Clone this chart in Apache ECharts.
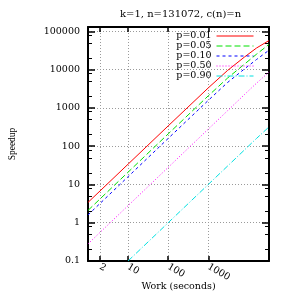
<!DOCTYPE html>
<html>
<head>
<meta charset="utf-8">
<script src="https://cdn.jsdelivr.net/npm/echarts@6/dist/echarts.min.js"></script>
<style>html,body{margin:0;padding:0;background:#fff}#c{width:291px;height:291px}</style>
</head>
<body>
<div id="c"></div>
<script>
// ---- data ----
const work = [1, 10, 100, 1000, 3000, 8000, 16000, 32768];
const p001 = [3.4, 34, 340, 3350, 9500, 21500, 37000, 58000];
const p005 = [2.1, 21, 210, 2080, 6000, 14000, 25500, 46000];
const p010 = [1.6, 16, 160, 1580, 4600, 10500, 18500, 32500];
const p050 = [0.28, 2.8, 28, 280, 840, 2240, 4450, 8700];
const p090 = [null, 0.1, 1, 10, 30, 80, 160, 320];
const seriesNames = ['p=0.01', 'p=0.05', 'p=0.10', 'p=0.50', 'p=0.90'];
const xTicks = [2, 10, 100, 1000];
const yTicks = [0.1, 1, 10, 100, 1000, 10000, 100000];
const yMinorTicks = [0.2, 0.5, 0.8, 2, 5, 8, 20, 50, 80, 200, 500, 800, 2000, 5000, 8000, 20000, 50000, 80000];

const FONT = "'DejaVu Serif', 'Liberation Serif', serif";
const FONT2 = "'Liberation Serif', serif";
const colors = ['#ff0000', '#00e000', '#0000ff', '#ff00ff', '#00e0e0'];
const dashes = ['solid', [6, 3], [3, 3], [1, 2], [6, 2, 1, 2]];
const values = [p001, p005, p010, p050, p090];

const chart = echarts.init(document.getElementById('c'), null, {renderer: 'canvas'});

const xRange = {type: 'log', logBase: 10, min: 1, max: 32768};
const yRange = {type: 'log', logBase: 10, min: 0.1, max: 131072};
const frame = {show: true, onZero: false, lineStyle: {color: '#000', width: 2}};

const fmt = v => String(Number(Number(v).toPrecision(6)));

const option = {
  animation: false,
  title: {
    text: 'k=1, n=131072, c(n)=n',
    left: 120, top: 9, padding: 0,
    textStyle: {fontFamily: FONT, fontSize: 10, fontWeight: 'normal', color: '#000'}
  },
  grid: {left: 88, right: 22, top: 27, bottom: 30, containLabel: false, outerBoundsMode: 'none'},
  legend: {
    data: seriesNames,
    orient: 'vertical',
    right: 37, top: 31, padding: 0,
    align: 'right',
    itemWidth: 37, itemHeight: 9, itemGap: 0,
    itemStyle: {opacity: 0},
    lineStyle: {width: 1},
    textStyle: {fontFamily: FONT, fontSize: 9.5, color: '#000', lineHeight: 9}
  },
  xAxis: [
    Object.assign({}, xRange, {
      position: 'bottom',
      name: 'Work (seconds)', nameLocation: 'middle', nameGap: 21, nameMoveOverlap: false,
      nameTextStyle: {fontFamily: FONT, fontSize: 9.5, color: '#000'},
      axisLine: frame,
      axisTick: {show: true, inside: true, length: 5, customValues: xTicks, lineStyle: {color: '#000', width: 1.5}},
      axisLabel: {show: true, customValues: xTicks, rotate: -30, margin: 5, fontFamily: FONT, fontSize: 9.5, color: '#000', formatter: fmt},
      splitLine: {show: true, lineStyle: {color: '#9a9a9a', width: 1, type: [1, 2]}},
      minorTick: {show: false}
    }),
    Object.assign({}, xRange, {
      position: 'top',
      axisLine: frame,
      axisTick: {show: true, inside: true, length: 5, customValues: xTicks, lineStyle: {color: '#000', width: 1.5}},
      axisLabel: {show: false},
      splitLine: {show: false}
    })
  ],
  yAxis: [
    Object.assign({}, yRange, {
      position: 'left',
      name: 'Speedup', nameLocation: 'middle', nameGap: 71, nameRotate: 90, nameMoveOverlap: false,
      nameTextStyle: {fontFamily: FONT2, fontSize: 9.5, color: '#000'},
      axisLine: frame,
      axisTick: {show: true, inside: true, length: 7, customValues: yTicks, lineStyle: {color: '#000', width: 1.5}},
      axisLabel: {show: true, customValues: yTicks, margin: 8, fontFamily: FONT, fontSize: 9.5, color: '#000', formatter: fmt},
      splitLine: {show: true, lineStyle: {color: '#9a9a9a', width: 1, type: [1, 2]}}
    }),
    Object.assign({}, yRange, {
      position: 'left',
      axisLine: {show: false},
      axisTick: {show: true, inside: true, length: 4, customValues: yMinorTicks, lineStyle: {color: '#000', width: 1}},
      axisLabel: {show: false},
      splitLine: {show: false}
    }),
    Object.assign({}, yRange, {
      position: 'right',
      axisLine: frame,
      axisTick: {show: true, inside: true, length: 7, customValues: yTicks, lineStyle: {color: '#000', width: 1.5}},
      axisLabel: {show: false},
      splitLine: {show: false}
    }),
    Object.assign({}, yRange, {
      position: 'right',
      axisLine: {show: false},
      axisTick: {show: true, inside: true, length: 4, customValues: yMinorTicks, lineStyle: {color: '#000', width: 1}},
      axisLabel: {show: false},
      splitLine: {show: false}
    })
  ],
  series: seriesNames.map((name, i) => ({
    name: name,
    type: 'line',
    xAxisIndex: 0, yAxisIndex: 0,
    symbol: 'none',
    smooth: false,
    connectNulls: false,
    clip: true,
    lineStyle: {color: colors[i], width: 1, type: dashes[i]},
    itemStyle: {color: colors[i]},
    data: work.map((w, j) => [w, values[i][j]])
  }))
};
chart.setOption(option);
</script>
</body>
</html>
